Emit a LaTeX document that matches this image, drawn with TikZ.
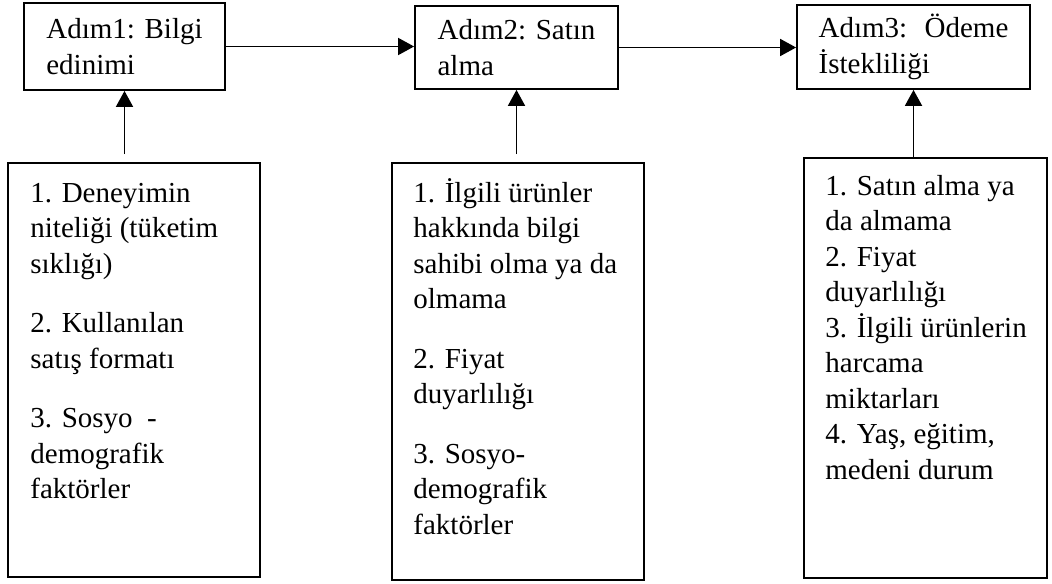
\documentclass[tikz,border=0pt]{standalone}
\usepackage{fontspec}
\setmainfont{Liberation Serif}
\usetikzlibrary{arrows.meta}

\tikzset{
	kutu/.style={draw, line width=0.9pt, inner sep=0pt},
	adim/.style={kutu, align=left},
	metin/.style={anchor=north west, align=left, inner sep=0pt},
	ok/.style={line width=0.9pt, -{Triangle[length=8pt,width=8.5pt]}}
}

\begin{document}
\begin{tikzpicture}[x=0.5pt, y=-0.5pt, font=\fontsize{14.5}{17.75}\selectfont]
				\useasboundingbox (0,0) rectangle (1052,583);
				\node[adim, minimum width=100.5pt, minimum height=43.5pt] (adim1) at (124.5,46.5) {Adım1: Bilgi\\edinimi};
				\node[adim, minimum width=101.5pt, minimum height=41.5pt] (adim2) at (516.5,47.5) {Adım2: Satın\\alma};
				\node[adim, minimum width=116.5pt, minimum height=42pt] (adim3) at (913.5,47) {Adım3:\hspace{0.6em}Ödeme\\İstekliliği};
				\node[kutu, minimum width=126pt, minimum height=207pt] (etken1) at (134,370) {};
				\node[kutu, minimum width=126pt, minimum height=208.5pt] (etken2) at (518,371.5) {};
				\node[kutu, minimum width=121.5pt, minimum height=210pt] (etken3) at (925.5,368) {};
				\node[metin] (etken1txt) at (30,177) {\strut 1. Deneyimin\\niteliği (tüketim\\sıklığı)\\[12pt]2. Kullanılan\\satış formatı\\[12pt]3. Sosyo\ \ -\\demografik\\faktörler};
				\node[metin] (etken2txt) at (413,177) {\strut 1. İlgili ürünler\\hakkında bilgi\\sahibi olma ya da\\olmama\\[12pt]2. Fiyat\\duyarlılığı\\[12pt]3. Sosyo-\\demografik\\faktörler};
				\node[metin] (etken3txt) at (825,170) {\strut 1. Satın alma ya\\da almama\\2. Fiyat\\duyarlılığı\\3. İlgili ürünlerin\\harcama\\miktarları\\4. Yaş, eğitim,\\medeni durum};
				\coordinate (k1) at ([yshift=4pt]etken1.north);
				\coordinate (k2) at ([yshift=4pt]etken2.north);
				\draw[ok] (adim1.east) -- (adim1.east -| adim2.west);
				\draw[ok] (adim2.east) -- (adim2.east -| adim3.west);
				\draw[ok] (k1 -| adim1.south) -- (adim1.south);
				\draw[ok] (k2 -| adim2.south) -- (adim2.south);
				\draw[ok] (etken3.north -| adim3.south) -- (adim3.south);
\end{tikzpicture}
\end{document}
